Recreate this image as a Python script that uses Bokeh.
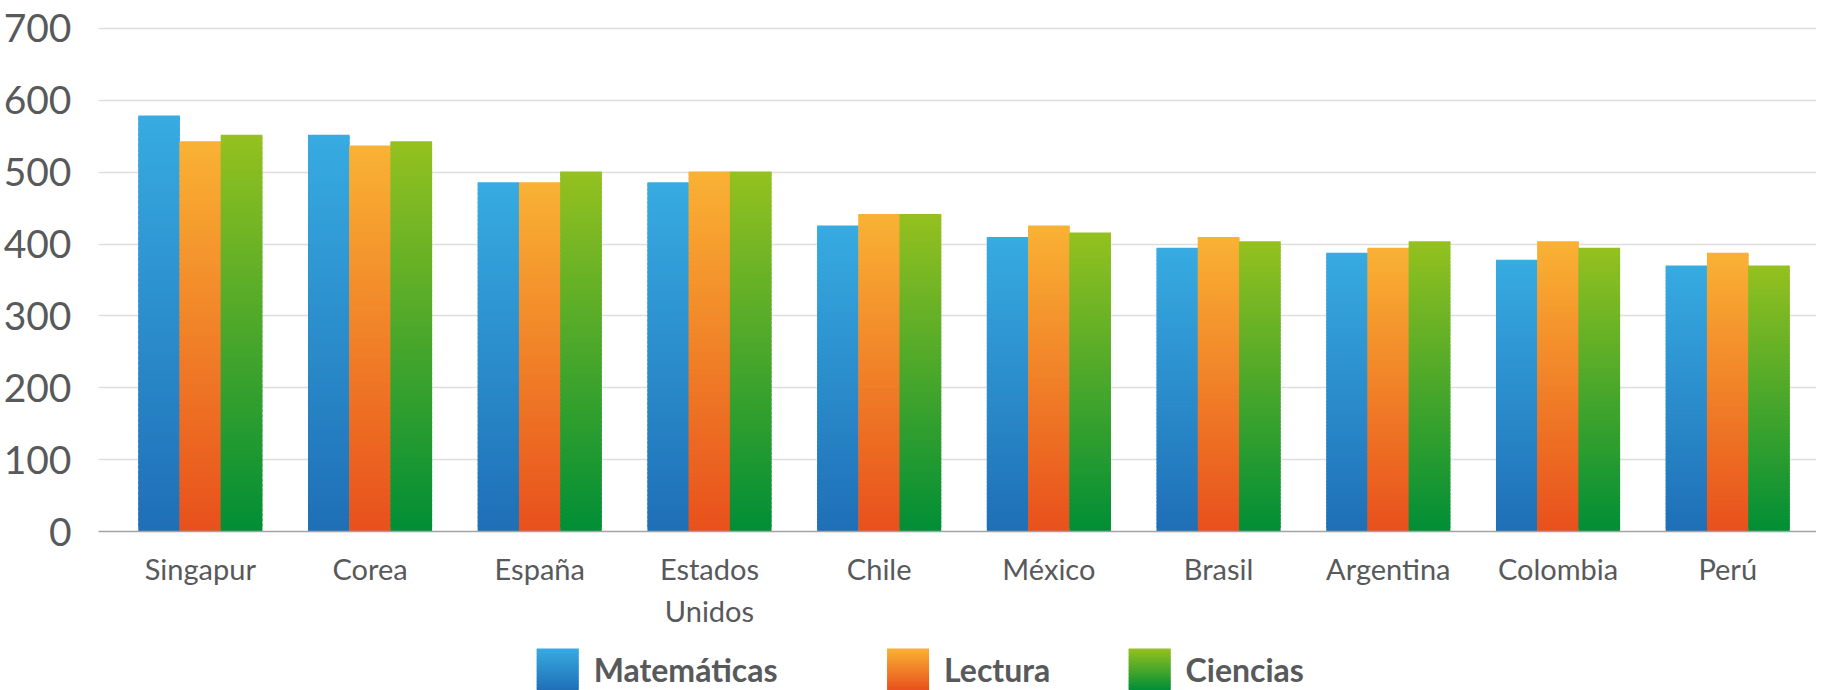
from bokeh.plotting import figure
from bokeh.models import Range1d, FixedTicker, ColumnDataSource
from bokeh.layouts import column
from bokeh.embed import file_html
from bokeh.resources import INLINE
from bokeh.core.properties import value

# ---------------- data ----------------
countries = ["Singapur", "Corea", "España", "Estados\nUnidos", "Chile",
             "México", "Brasil", "Argentina", "Colombia", "Perú"]
series = ["Matemáticas", "Lectura", "Ciencias"]
matematicas = [579, 552, 486, 486, 426, 410, 395, 388, 378, 370]
lectura = [543, 537, 486, 501, 442, 426, 410, 395, 404, 388]
ciencias = [552, 543, 501, 501, 442, 416, 404, 404, 395, 370]
y_ticks = [0, 100, 200, 300, 400, 500, 600, 700]

# gradient colours (bottom, top) per series
grad = {
    "Matemáticas": ("#1f6fb6", "#37abe2"),
    "Lectura": ("#e8501c", "#f9b234"),
    "Ciencias": ("#008e36", "#95c11f"),
}

TXT = "#58595b"
FONT = "Lato"
N = 80  # gradient slices


def hex2rgb(h):
    h = h.lstrip("#")
    return tuple(int(h[i:i + 2], 16) for i in (0, 2, 4))


def mix(c0, c1, t):
    a, b = hex2rgb(c0), hex2rgb(c1)
    return "#%02x%02x%02x" % tuple(int(round(a[i] + (b[i] - a[i]) * t)) for i in range(3))


def slices(xs, vals, cb, ct, n=N):
    X, B, T, C = [], [], [], []
    for x, v in zip(xs, vals):
        for k in range(n):
            X.append(x)
            B.append(v * k / n)
            T.append(min(v, v * (k + 1.7) / n))
            C.append(mix(cb, ct, (k + 0.5) / n))
    return dict(x=X, bottom=B, top=T, color=C)


W = 1816
MAIN_H = 641
LEFT = 95
p = figure(width=W, height=MAIN_H, output_backend="svg", toolbar_location=None,
           x_range=Range1d(-0.6, 9.523), y_range=Range1d(0, 713.9),
           min_border_left=LEFT, min_border_right=0, min_border_top=18,
           min_border_bottom=110)
p.outline_line_color = None
p.background_fill_color = "white"
p.border_fill_color = "white"

bw = 0.2431
idx = list(range(len(countries)))
for j, (name, vals) in enumerate(zip(series, [matematicas, lectura, ciencias])):
    xs = [i + (j - 1) * bw for i in idx]
    src = ColumnDataSource(slices(xs, vals, *grad[name]))
    p.vbar(x="x", width=bw + 0.002, bottom="bottom", top="top", fill_color="color",
           line_color=None, source=src)

# grid
p.xgrid.visible = False
p.ygrid.ticker = FixedTicker(ticks=y_ticks)
p.ygrid.grid_line_color = "#dedede"
p.ygrid.grid_line_width = 1.6

# y axis
p.yaxis.ticker = FixedTicker(ticks=y_ticks)
p.yaxis.axis_line_color = None
p.yaxis.major_tick_line_color = None
p.yaxis.minor_tick_line_color = None
p.yaxis.major_label_text_font = FONT
p.yaxis.major_label_text_font_size = "39px"
p.yaxis.major_label_text_color = TXT
p.yaxis.major_label_standoff = 21

# x axis
p.xaxis.ticker = FixedTicker(ticks=idx)
p.xaxis.major_label_overrides = {i: c for i, c in zip(idx, countries)}
p.xaxis.axis_line_color = "#a3a3a3"
p.xaxis.axis_line_width = 1.6
p.xaxis.major_tick_line_color = None
p.xaxis.minor_tick_line_color = None
p.xaxis.major_label_text_font = FONT
p.xaxis.major_label_text_font_size = "29px"
p.xaxis.major_label_text_color = TXT
p.xaxis.major_label_standoff = 13

# ---------------- legend strip (approx. page-pixel coordinates) ----------------
LH = 49
lg = figure(width=W, height=LH, output_backend="svg", toolbar_location=None,
            x_range=Range1d(LEFT + 1, W + 1), y_range=Range1d(0, LH),
            x_axis_type=None, y_axis_type=None,
            min_border_left=LEFT, min_border_right=0, min_border_top=0, min_border_bottom=0)
lg.outline_line_color = None
lg.grid.visible = False

sq_left = [535, 886, 1128]
sq_size = 42
sq_top = 42
n_leg = 30
for name, x0 in zip(series, sq_left):
    cb, ct = grad[name]
    L, R, B, T, C = [], [], [], [], []
    for k in range(n_leg):
        L.append(x0)
        R.append(x0 + sq_size)
        B.append(sq_top - sq_size + sq_size * k / n_leg)
        T.append(min(sq_top, sq_top - sq_size + sq_size * (k + 1.7) / n_leg))
        C.append(mix(cb, ct, (k + 0.5) / n_leg))
    lg.quad(left=L, right=R, bottom=B, top=T, fill_color=C, line_color=None)
lg.text(x=[x + sq_size + 15 for x in sq_left], y=[21, 21, 21], text=series,
        text_font=value(FONT), text_font_style="bold", text_font_size="32px",
        text_color=TXT, text_baseline="middle", text_align="left")

layout = column(p, lg, spacing=0)
open("out.html", "w").write(file_html(layout, INLINE))
